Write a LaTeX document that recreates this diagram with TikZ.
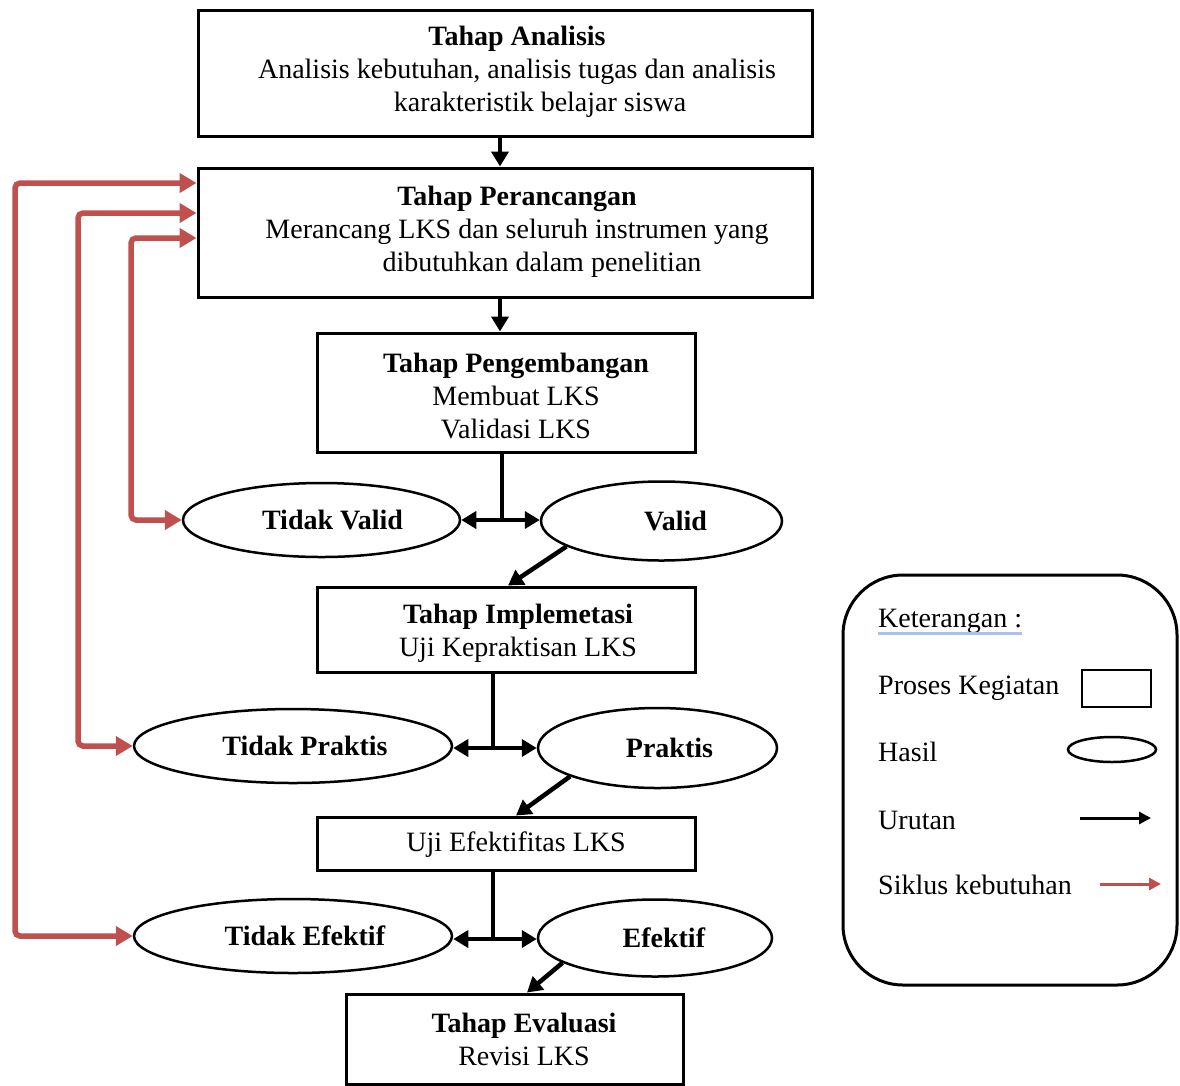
\documentclass[tikz,border=0pt]{standalone}
\usepackage{fontspec}
\setmainfont{Liberation Serif}
\usetikzlibrary{arrows.meta,shapes.geometric}
\definecolor{redc}{RGB}{192,80,77}
\definecolor{ulblue}{RGB}{165,195,238}
\begin{document}
\begin{tikzpicture}[x=1pt,y=-1pt,
 font=\fontsize{28}{33}\selectfont,
 box/.style={draw, line width=3pt, inner sep=0pt},
 res/.style={draw, ellipse, line width=2.5pt, inner sep=0pt},
 txt/.style={align=center, inner sep=0pt},
 stem/.style={line width=4.5pt},
 seq/.style={line width=4.5pt, -{Triangle[length=15pt,width=17pt]}},
 seqb/.style={line width=4.5pt, {Triangle[length=15pt,width=17pt]}-{Triangle[length=15pt,width=17pt]}},
 cyc/.style={draw=redc, line width=5.5pt, rounded corners=5pt, {Triangle[length=17pt,width=19pt]}-{Triangle[length=17pt,width=19pt]}},
]
\useasboundingbox (0,0) rectangle (1180,1085);

% process boxes
\node[box, minimum width=614pt, minimum height=126pt] (b1) at (505,73) {};
\node[txt] (t1) at (517,72) {\textbf{Tahap Analisis}\\Analisis kebutuhan, analisis tugas dan analisis\\\hspace*{46pt}karakteristik belajar siswa};
\node[box, minimum width=614pt, minimum height=129pt] (b2) at (505,232.5) {};
\node[txt] (t2) at (517,232) {\textbf{Tahap Perancangan}\\Merancang LKS dan seluruh instrumen yang\\\hspace*{50pt}dibutuhkan dalam penelitian};
\node[box, minimum width=378pt, minimum height=119pt] (b3) at (506,392.5) {};
\node[txt] (t3) at (516,396) {\textbf{Tahap Pengembangan}\\Membuat LKS\\Validasi LKS};
\node[box, minimum width=378pt, minimum height=85pt] (b4) at (506,629.5) {};
\node[txt] (t4) at (518,633.5) {\textbf{Tahap Implemetasi}\\Uji Kepraktisan LKS};
\node[box, minimum width=378pt, minimum height=53pt] (b5) at (506,843.5) {};
\node[txt] (t5) at (516,845) {Uji Efektifitas LKS};
\node[box, minimum width=337pt, minimum height=90pt] (b6) at (514.5,1039) {};
\node[txt] (t6) at (524,1039.5) {\textbf{Tahap Evaluasi}\\Revisi LKS};

% result ellipses
\node[res, minimum width=277pt, minimum height=74pt, label={[xshift=11pt]center:\textbf{Tidak Valid}}] (e1) at (321.5,520) {};
\node[res, minimum width=241pt, minimum height=79pt, label={[xshift=14pt]center:\textbf{Valid}}] (e2) at (661.5,521) {};
\node[res, minimum width=318pt, minimum height=74pt, label={[xshift=12pt]center:\textbf{Tidak Praktis}}] (e3) at (293,746) {};
\node[res, minimum width=239pt, minimum height=80pt, label={[xshift=12pt]center:\textbf{Praktis}}] (e4) at (657.5,748) {};
\node[res, minimum width=318pt, minimum height=74pt, label={[xshift=12pt]center:\textbf{Tidak Efektif}}] (e5) at (293,936) {};
\node[res, minimum width=234pt, minimum height=77pt, label={[xshift=9pt]center:\textbf{Efektif}}] (e6) at (655,938) {};

% sequence connectors
\draw[seq] ([xshift=-5pt]b1.south) -- ([xshift=-5pt]b2.north);
\draw[seq] ([xshift=-5pt]b2.south) -- ([xshift=-6pt]b3.north);

\coordinate (j1) at (502,520);
\draw[stem] (b3.south -| j1) -- (j1);
\draw[seqb] (e1.east |- j1) -- (e2.west |- j1);
\draw[seq] (e2.195) -- ([xshift=2pt]b4.north);

\coordinate (j2) at (493,748);
\draw[stem] (b4.south -| j2) -- (j2);
\draw[seqb] (e3.east |- j2) -- (e4.west |- j2);
\draw[seq] (e4.198) -- ([xshift=10pt]b5.north);

\coordinate (j3) at (493,939);
\draw[stem] (b5.south -| j3) -- (j3);
\draw[seqb] (e5.east |- j3) -- (e6.west |- j3);
\draw[seq] (e6.195) -- ([xshift=12.5pt]b6.north);

% cycle connectors
\coordinate (c1) at (15,600);
\coordinate (c2) at (78,500);
\coordinate (c3) at (131,400);
\draw[cyc] ([yshift=49.5pt]b2.west) -| (c1) |- (e5.west);
\draw[cyc] ([yshift=19.5pt]b2.west) -| (c2) |- (e3.west);
\draw[cyc] ([yshift=-5.5pt]b2.west) -| (c3) |- (e1.west);

% legend
\node[draw, line width=3pt, rounded corners=60pt, minimum width=334pt, minimum height=410pt] (leg) at (1010,780) {};
\node[anchor=west, inner sep=0pt] (k0) at (878,621) {Keterangan :};
\draw[ulblue, line width=3pt] ([yshift=-6pt]k0.base west) -- ([yshift=-6pt]k0.base east);
\node[anchor=west, inner sep=0pt] (k1) at (878,688) {Proses Kegiatan};
\node[box, line width=2.5pt, minimum width=69pt, minimum height=37pt] (lrect) at (1116.5,688.5) {};
\node[anchor=west, inner sep=0pt] (k2) at (878,752) {Hasil};
\node[res, minimum width=88pt, minimum height=25pt] (lell) at (1112,749.5) {};
\node[anchor=west, inner sep=0pt] (k3) at (878,820) {Urutan};
\coordinate (la1) at (1080,818);
\coordinate (la2) at (1151,818);
\draw[line width=3pt, -{Triangle[length=12pt,width=12pt]}] (la1) -- (la2);
\node[anchor=west, inner sep=0pt] (k4) at (878,885) {Siklus kebutuhan};
\coordinate (lr1) at (1100,884);
\coordinate (lr2) at (1161,884);
\draw[redc, line width=3pt, -{Triangle[length=12pt,width=12pt]}] (lr1) -- (lr2);
\end{tikzpicture}
\end{document}
